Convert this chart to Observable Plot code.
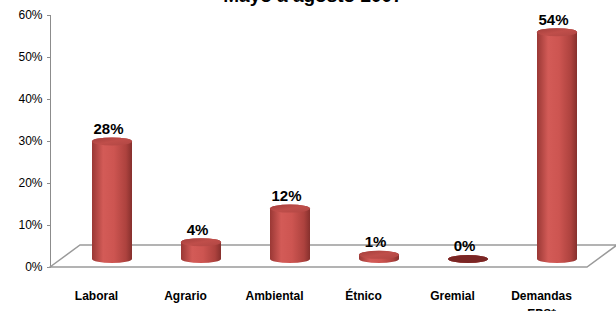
<!DOCTYPE html>
<html><head><meta charset="utf-8">
<script src="https://cdn.jsdelivr.net/npm/d3@7"></script>
<script src="https://cdn.jsdelivr.net/npm/@observablehq/plot@0.6"></script>
<style>
body{margin:0;background:#fff;}
#wrap{position:relative;width:616px;height:311px;overflow:hidden;font-family:"Liberation Sans",Arial,sans-serif;background:#fff;}
#title{position:absolute;z-index:2;left:5px;width:616px;top:-14px;text-align:center;font-weight:bold;font-size:19px;line-height:19px;color:#000;}
#chart{position:absolute;z-index:1;left:0;top:0;}
#chart text{fill:#000;}
</style></head><body>
<div id="wrap"><div id="title">Mayo a agosto 2007</div><div id="chart"></div></div>
<script>
const categories = ["Laboral", "Agrario", "Ambiental", "Étnico", "Gremial", "Demandas\nEPS*"];
const values = [0.28, 0.04, 0.12, 0.01, 0.00, 0.54];
const valueLabels = ["28%", "4%", "12%", "1%", "0%", "54%"];
const yTicks = [0, 0.1, 0.2, 0.3, 0.4, 0.5, 0.6];

const data = categories.map((c, i) => ({category: c, value: values[i], label: valueLabels[i]}));

function floor(index, scales, vals, dims) {
  const {width, height, marginLeft, marginRight, marginBottom} = dims;
  const x0 = marginLeft, x1 = width - marginRight, y0 = height - marginBottom;
  const ddx = 30, ddy = -22;
  const g = d3.create("svg:g").attr("fill", "none").attr("stroke", "#9a9a9a").attr("stroke-width", 1.5);
  g.append("path").attr("d", `M${x0},${y0}L${x0 + ddx},${y0 + ddy}L${x1 + ddx},${y0 + ddy}L${x1},${y0}Z`);
  return g.node();
}

const barOpts = {x: "category", dx: 16, dy: -8, rx: 20, ry: 4, insetTop: -4, insetBottom: -4};

const svg = Plot.plot({
  width: 616,
  height: 311,
  marginTop: 15,
  marginBottom: 44,
  marginLeft: 50,
  marginRight: 29,
  style: {color: "#8c8c8c", fontSize: "12px", fontFamily: "'Liberation Sans', Arial, sans-serif", background: "transparent"},
  x: {domain: categories, axis: null, paddingInner: 0.55, paddingOuter: 0.275},
  y: {domain: [0, 0.6], ticks: yTicks, tickFormat: d => Math.round(d * 100) + "%", tickSize: 3, tickPadding: 5, line: true, label: null},
  marks: [
    floor,
    Plot.barY(data, {...barOpts, y1: 0, y2: "value", fill: "url(#cyl)"}),
    Plot.barY(data, {...barOpts, y1: "value", y2: "value", fill: "url(#cap)", filter: d => d.value > 0}),
    Plot.barY(data, {...barOpts, y1: "value", y2: "value", fill: "#7a2624", filter: d => d.value === 0}),
    Plot.text(data, {x: "category", y: "value", text: "label", dx: 12, dy: -21, fontSize: 15, fontWeight: "bold"}),
    Plot.text(data, {x: "category", y: () => 0, text: "category", dy: 20.5, lineAnchor: "top", lineHeight: 1.45, fontSize: 12, fontWeight: "bold"})
  ]
});

const defs = d3.select(svg).insert("defs", ":first-child");
const g1 = defs.append("linearGradient").attr("id", "cyl").attr("x1", 0).attr("x2", 1).attr("y1", 0).attr("y2", 0);
[[0, "#9a3835"], [0.28, "#d35b57"], [0.55, "#cd5551"], [0.85, "#ad423e"], [1, "#86302d"]].forEach(([o, c]) => g1.append("stop").attr("offset", o).attr("stop-color", c));
const g2 = defs.append("linearGradient").attr("id", "cap").attr("x1", 0).attr("x2", 1).attr("y1", 0).attr("y2", 1);
[[0, "#a33e3b"], [0.5, "#bf4e4a"], [1, "#b04643"]].forEach(([o, c]) => g2.append("stop").attr("offset", o).attr("stop-color", c));

document.getElementById("chart").appendChild(svg);
</script>
</body></html>
